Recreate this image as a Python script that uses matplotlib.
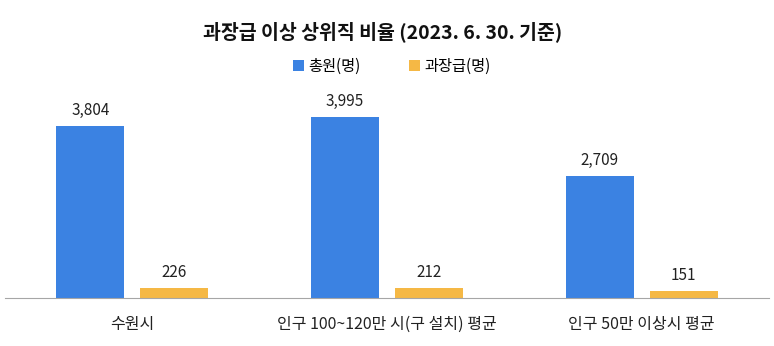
import numpy as np
import matplotlib.pyplot as plt

plt.rcParams['font.family'] = ['Noto Sans CJK KR', 'DejaVu Sans']

categories = ["수원시", "인구 100~120만 시(구 설치) 평균", "인구 50만 이상시 평균"]
total = [3804, 3995, 2709]
managers = [226, 212, 151]
series_names = ["총원(명)", "과장급(명)"]

blue = "#3B82E2"
orange = "#F5B845"

fig = plt.figure(figsize=(7.74, 3.46), dpi=100)
ax = fig.add_axes([5 / 774, 48 / 346, 764 / 774, 208 / 346])

x = np.arange(len(categories))
w = 0.267
off = 0.165
b1 = ax.bar(x - off, total, w, color=blue, label=series_names[0])
b2 = ax.bar(x + off, managers, w, color=orange, label=series_names[1])

for bars, vals in ((b1, total), (b2, managers)):
    for rect, v in zip(bars, vals):
        ax.annotate(f"{v:,}", (rect.get_x() + rect.get_width() / 2, v),
                    textcoords="offset points", xytext=(0, 5),
                    ha="center", va="bottom", fontsize=11, color="#222222")

ax.set_xlim(-0.5, 2.5)
ax.set_ylim(0, 4600)
ax.set_yticks([])
ax.set_xticks(x)
ax.set_xticklabels(categories, fontsize=11.5, color="#222222")
ax.tick_params(axis="x", length=0, pad=13)
for s in ("top", "right", "left"):
    ax.spines[s].set_visible(False)
ax.spines["bottom"].set_color("#A6A6A6")

fig.text(383 / 774, 1 - 32 / 346, "과장급 이상 상위직 비율 (2023. 6. 30. 기준)",
         ha="center", va="center", fontsize=14,
         fontweight="bold", color="#111111")
fig.legend(handles=[b1, b2], loc="center", bbox_to_anchor=(392 / 774, 1 - 66 / 346),
           ncol=2, frameon=False, fontsize=11, handlelength=0.7,
           handleheight=0.7, handletextpad=0.3, columnspacing=3.2)

fig.savefig("out.png", dpi=100)
